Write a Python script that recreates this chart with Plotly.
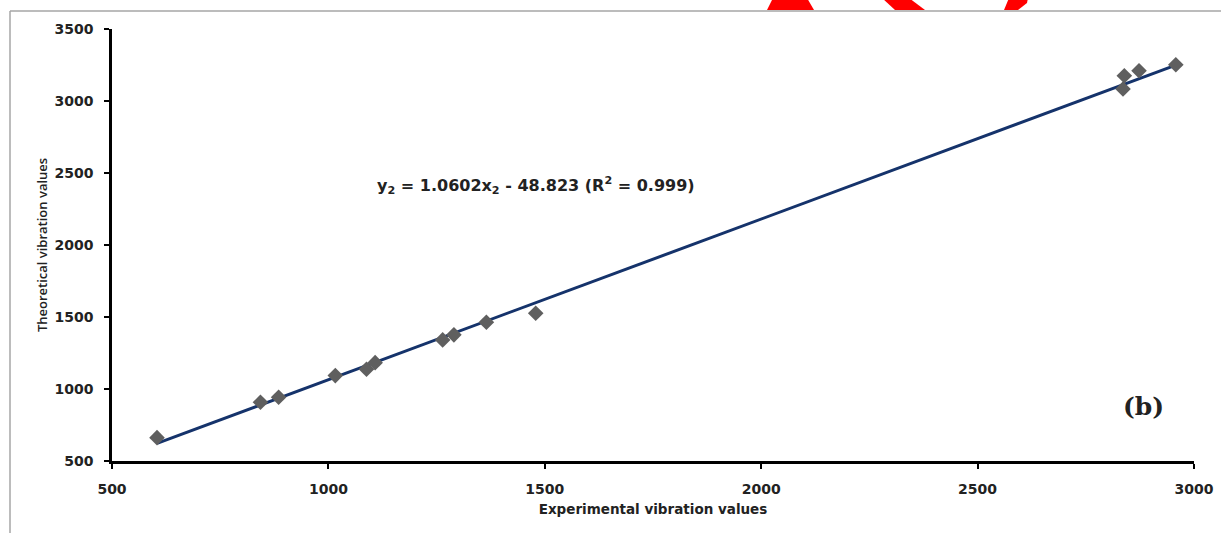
import plotly.graph_objects as go

# ---- data ----
exp_x = [604, 843, 885, 1016, 1088, 1108, 1264, 1290, 1365, 1479, 2836, 2839, 2873, 2958]
theo_y = [662, 908, 943, 1093, 1137, 1183, 1341, 1376, 1464, 1526, 3083, 3175, 3210, 3252]
trend_x = [604, 2958]
trend_y = [623, 3249]
x_ticks = [500, 1000, 1500, 2000, 2500, 3000]
y_ticks = [500, 1000, 1500, 2000, 2500, 3000, 3500]
equation = "y<sub>2</sub> = 1.0602x<sub>2</sub> - 48.823 (R<sup>2</sup> = 0.999)"
panel_label = "(b)"
x_title = "Experimental vibration values"
y_title = "Theoretical vibration values"

W, H = 1221, 533
ML, MR, MT, MB = 112, 27, 29, 72
PW, PH = W - ML - MR, H - MT - MB


def px(xp):
    return (xp - ML) / PW


def py(yp):
    return (H - MB - yp) / PH


fig = go.Figure()
fig.add_trace(go.Scatter(x=trend_x, y=trend_y, mode="lines",
                         line=dict(color="#15336b", width=3), hoverinfo="skip",
                         showlegend=False))
fig.add_trace(go.Scatter(x=exp_x, y=theo_y, mode="markers",
                         marker=dict(symbol="diamond", size=12, color="#5f5f5f"),
                         showlegend=False))

axis_common = dict(showgrid=False, zeroline=False, showline=True, linecolor="black",
                   linewidth=2.5, ticks="outside", ticklen=5, tickwidth=2,
                   tickcolor="black", mirror=False)

fig.update_xaxes(range=[500, 3000], tickvals=x_ticks, ticklabelstandoff=8,
                 tickfont=dict(family="DejaVu Sans", size=14, color="#222", weight="bold"),
                 title=dict(text=x_title, standoff=10,
                            font=dict(family="DejaVu Sans", size=13.5, color="#222", weight="bold")),
                 **axis_common)
fig.update_yaxes(range=[500, 3500], tickvals=y_ticks, ticklabelstandoff=8,
                 tickfont=dict(family="DejaVu Sans", size=14, color="#222", weight="bold"),
                 title=dict(text=y_title, standoff=4,
                            font=dict(family="Open Sans", size=13, color="#222", weight=600)),
                 **axis_common)

shapes = []
# outer frame (left and top grey border lines)
shapes.append(dict(type="line", xref="paper", yref="paper",
                   x0=px(10), y0=py(11), x1=px(W + 2), y1=py(11),
                   line=dict(color="#a6a6a6", width=1.5)))
shapes.append(dict(type="line", xref="paper", yref="paper",
                   x0=px(10), y0=py(11), x1=px(10), y1=py(H + 2),
                   line=dict(color="#a6a6a6", width=1.5)))
# red cut-off shapes at the very top
red_polys = [
    [(773, -2), (807, -2), (814, 10), (767, 10)],
    [(882, -2), (909, -2), (925, 10), (895, 10)],
    [(1009, -2), (1028, -2), (1027, 3), (1018, 10), (1004, 10)],
]
for poly in red_polys:
    path = "M " + " L ".join(f"{px(a):.5f},{py(b):.5f}" for a, b in poly) + " Z"
    shapes.append(dict(type="path", xref="paper", yref="paper", path=path,
                       fillcolor="#ff0000", line=dict(width=0)))

fig.update_layout(
    width=W, height=H,
    margin=dict(l=ML, r=MR, t=MT, b=MB, autoexpand=False),
    paper_bgcolor="white", plot_bgcolor="white",
    shapes=shapes,
    annotations=[
        dict(text=equation, xref="paper", yref="paper", x=px(536), y=py(185),
             showarrow=False, xanchor="center", yanchor="middle",
             font=dict(family="DejaVu Sans", size=16, color="#222", weight="bold")),
        dict(text=panel_label, xref="paper", yref="paper", x=px(1143), y=py(406),
             showarrow=False, xanchor="center", yanchor="middle",
             font=dict(family="DejaVu Serif", size=25, color="#222", weight="bold")),
    ],
)

fig.write_html("out.html", config={"displayModeBar": False},
               post_script="document.body.style.margin='0';")
